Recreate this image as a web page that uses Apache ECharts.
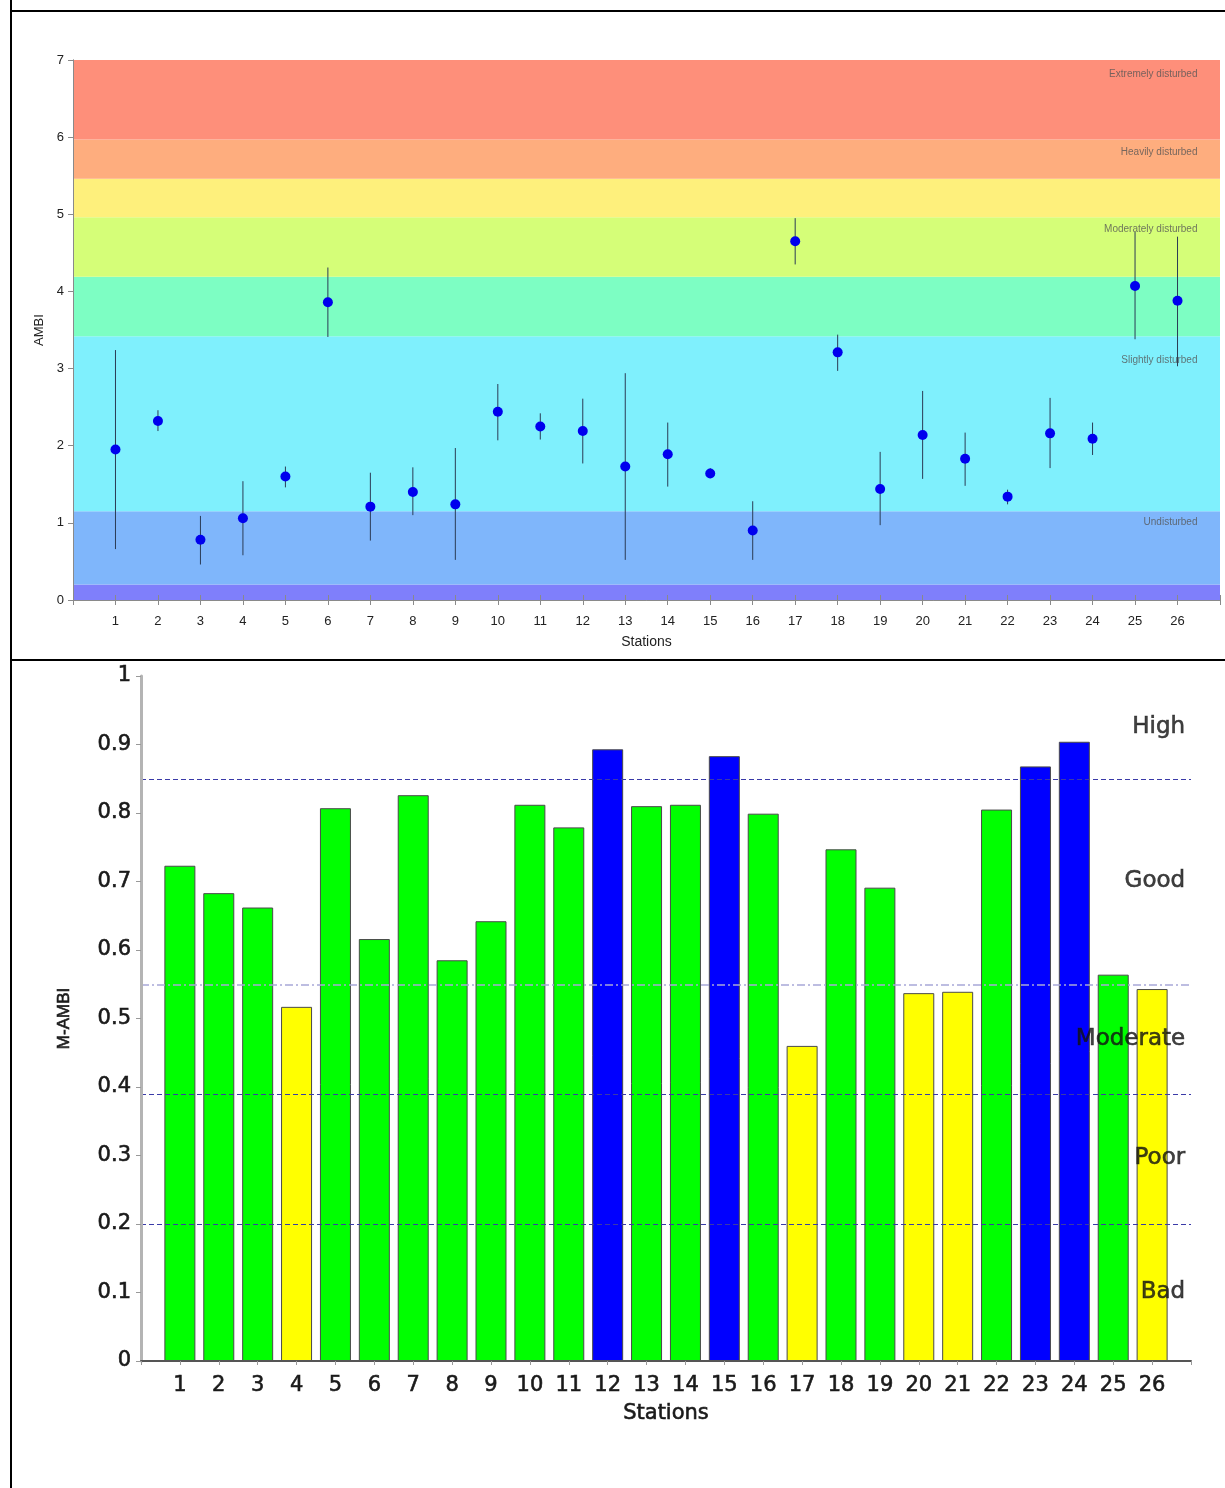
<!DOCTYPE html>
<html><head><meta charset="utf-8">
<script src="https://cdn.jsdelivr.net/npm/echarts@6/dist/echarts.min.js"></script>
<style>html,body{margin:0;padding:0;background:#fff}#c{width:1225px;height:1488px}</style>
</head><body><div id="c"></div>
<script>
// ---------- DATA ----------
const stations = [1,2,3,4,5,6,7,8,9,10,11,12,13,14,15,16,17,18,19,20,21,22,23,24,25,26];
// top panel: AMBI mean and error-bar range
const ambiMean = [1.95,2.32,0.78,1.06,1.60,3.86,1.21,1.40,1.24,2.44,2.25,2.19,1.73,1.89,1.64,0.90,4.65,3.21,1.44,2.14,1.83,1.34,2.16,2.09,4.07,3.88];
const ambiLow  = [0.66,2.19,0.46,0.58,1.46,3.41,0.77,1.10,0.52,2.07,2.08,1.77,0.52,1.47,1.58,0.52,4.35,2.97,0.97,1.57,1.48,1.24,1.71,1.88,3.38,3.03];
const ambiHigh = [3.24,2.46,1.09,1.54,1.73,4.31,1.65,1.72,1.97,2.80,2.42,2.61,2.94,2.30,1.71,1.28,4.95,3.44,1.92,2.71,2.17,1.43,2.62,2.30,4.77,4.71];
// AMBI background bands (edges, low to high)
const bandEdges = [0, 0.2, 1.15, 3.42, 4.19, 4.96, 5.46, 5.97, 7];
const bandLabels = ['Extremely disturbed','Heavily disturbed','Moderately disturbed','Slightly disturbed','Undisturbed'];
const bandLabelY = [6.81, 5.81, 4.81, 3.11, 1.01];
// bottom panel: M-AMBI
const mambi = [0.723,0.683,0.662,0.517,0.807,0.616,0.826,0.585,0.642,0.812,0.779,0.893,0.810,0.812,0.883,0.799,0.460,0.747,0.691,0.537,0.539,0.805,0.868,0.904,0.564,0.543];
const mambiThresholds = [0.2, 0.39, 0.55, 0.85];
const classLabels = ['Bad','Poor','Moderate','Good','High'];
const classLabelY = [0.10, 0.296, 0.47, 0.70, 0.926];

// ---------- STYLE ----------
const bandColors = ['#7f7ffb','#7fb6fb','#7ff0fd','#7dfec3','#d5fe78','#fef07c','#fead7e','#fe8f7a'];
const classColors = ['#ffff00','#ffff00','#ffff00','#00ff00','#0000ff']; // index by class
function classOf(v){ let c=0; mambiThresholds.forEach(t=>{ if(v>=t) c++; }); return c; }

const chart = echarts.init(document.getElementById('c'), null, {renderer:'canvas'});
const F1 = 'Liberation Sans, Arial, sans-serif';
const F2 = 'DejaVu Sans, Verdana, sans-serif';
const boldish = {textBorderColor:'#1a1a1a', textBorderWidth:0.6};

const option = {
  animation:false,
  backgroundColor:'#fff',
  grid:[
    {left:73, top:60, width:1147, height:540},
    {left:141, top:676, width:1050, height:685}
  ],
  xAxis:[
    {gridIndex:0, type:'value', min:0, max:27, interval:1, position:'bottom', z:10,
     axisLine:{show:true, lineStyle:{color:'#8a8a8a', width:1}},
     axisTick:{show:true, length:5, lineStyle:{color:'#8a8a8a'}},
     splitLine:{show:false},
     axisLabel:{margin:15, fontFamily:F1, fontSize:13, color:'#222', formatter:v=>(v>=1&&v<=26)?String(v):''},
     name:'Stations', nameLocation:'middle', nameGap:35, nameTextStyle:{fontFamily:F1, fontSize:14, color:'#222'}},
    {gridIndex:0, type:'value', min:0, max:27, interval:1, position:'top', z:10,
     axisLine:{show:true, lineStyle:{color:'#8a8a8a', width:1}},
     axisTick:{show:true, length:5, lineStyle:{color:'#8a8a8a'}},
     splitLine:{show:false}, axisLabel:{show:false}},
    {gridIndex:1, type:'value', min:0, max:27, interval:1, position:'bottom', z:10,
     axisLine:{show:true, lineStyle:{color:'#555', width:2}},
     axisTick:{show:true, length:4, lineStyle:{color:'#999'}},
     splitLine:{show:false},
     axisLabel:{margin:14, fontFamily:F2, fontSize:21, color:'#1a1a1a', ...boldish, formatter:v=>(v>=1&&v<=26)?String(v):''},
     name:'Stations', nameLocation:'middle', nameGap:42, nameTextStyle:{fontFamily:F2, fontSize:21, color:'#1a1a1a', ...boldish}}
  ],
  yAxis:[
    {gridIndex:0, type:'value', min:0, max:7, interval:1, z:10,
     axisLine:{show:true, lineStyle:{color:'#8a8a8a'}},
     axisTick:{show:true, length:5, lineStyle:{color:'#8a8a8a'}},
     splitLine:{show:false},
     axisLabel:{margin:9, fontFamily:F1, fontSize:13, color:'#222'},
     name:'AMBI', nameLocation:'middle', nameGap:26, nameTextStyle:{fontFamily:F1, fontSize:13, color:'#222'}},
    {gridIndex:0, type:'value', min:0, max:7, interval:1, position:'right', z:10,
     axisLine:{show:true, lineStyle:{color:'#8a8a8a'}},
     axisTick:{show:true, inside:true, length:5, lineStyle:{color:'#8a8a8a'}},
     splitLine:{show:false}, axisLabel:{show:false}},
    {gridIndex:1, type:'value', min:0, max:1, interval:0.1, z:10,
     axisLine:{show:true, lineStyle:{color:'#b4b4b4', width:3}},
     axisTick:{show:true, length:5, lineStyle:{color:'#999'}},
     splitLine:{show:false},
     axisLabel:{margin:10, fontFamily:F2, fontSize:21, color:'#1a1a1a', ...boldish,
       formatter:v=>(v===0?'0':(Math.abs(v-1)<1e-9?'1':v.toFixed(1)))},
     name:'M-AMBI', nameLocation:'middle', nameGap:68,
     nameTextStyle:{fontFamily:F1, fontSize:17, color:'#1a1a1a', ...boldish}}
  ],
  series:[
    // AMBI bands
    {type:'custom', xAxisIndex:0, yAxisIndex:0, z:1, silent:true,
     data: bandColors.map((c,i)=>[bandEdges[i], bandEdges[i+1], i]),
     renderItem:(params, api)=>{
       const cs = params.coordSys;
       const y0 = api.coord([0, api.value(0)])[1];
       const y1 = api.coord([0, api.value(1)])[1];
       return {type:'rect', shape:{x:cs.x, y:y1, width:cs.width, height:y0-y1},
               style:{fill:bandColors[api.value(2)]}};
     }},
    // band labels
    {type:'scatter', xAxisIndex:0, yAxisIndex:0, z:3, symbolSize:0, silent:true,
     data: bandLabels.map((t,i)=>({value:[26.47, bandLabelY[i]], name:t})),
     label:{show:true, position:'left', distance:0, formatter:p=>p.name,
       fontFamily:F1, fontSize:10, color:'#555'}},
    // error bars
    {type:'custom', xAxisIndex:0, yAxisIndex:0, z:4, silent:true,
     data: stations.map((s,i)=>[s, ambiLow[i], ambiHigh[i]]),
     renderItem:(params, api)=>{
       const p0 = api.coord([api.value(0), api.value(1)]);
       const p1 = api.coord([api.value(0), api.value(2)]);
       return {type:'line', shape:{x1:p0[0], y1:p0[1], x2:p1[0], y2:p1[1]},
               style:{stroke:'#2b3b55', lineWidth:1}};
     }},
    // AMBI means
    {type:'scatter', xAxisIndex:0, yAxisIndex:0, z:5, symbol:'circle', symbolSize:10,
     itemStyle:{color:'#0000ee', opacity:1},
     data: stations.map((s,i)=>[s, ambiMean[i]])},
    // M-AMBI bars
    {type:'bar', xAxisIndex:2, yAxisIndex:2, z:3, barWidth:31,
     data: stations.map((s,i)=>({value:[s, mambi[i]],
       itemStyle:{color:classColors[classOf(mambi[i])], borderColor:'#4a4a4a', borderWidth:1}})),
     markLine:{silent:true, symbol:'none', label:{show:false},
       data: mambiThresholds.map(t=>({yAxis:t,
         lineStyle: t===0.55 ? {color:'#a8a8d8', width:1.5, type:[8,3,2,3]} : {color:'#3a3aa8', width:1, type:[5,3]}}))}},
    // class labels
    {type:'scatter', xAxisIndex:2, yAxisIndex:2, z:6, symbolSize:0, silent:true,
     data: classLabels.map((t,i)=>({value:[26.85, classLabelY[i]], name:t})),
     label:{show:true, position:'left', distance:0, formatter:p=>p.name,
       fontFamily:F2, fontSize:23, color:'#111', ...boldish}}
  ],
  graphic:[
    {type:'line', shape:{x1:11, y1:0, x2:11, y2:1488}, style:{stroke:'#000', lineWidth:2}, silent:true},
    {type:'line', shape:{x1:10, y1:11, x2:1225, y2:11}, style:{stroke:'#000', lineWidth:2}, silent:true},
    {type:'line', shape:{x1:10, y1:660, x2:1225, y2:660}, style:{stroke:'#000', lineWidth:2}, silent:true}
  ]
};
chart.setOption(option);
</script></body></html>
